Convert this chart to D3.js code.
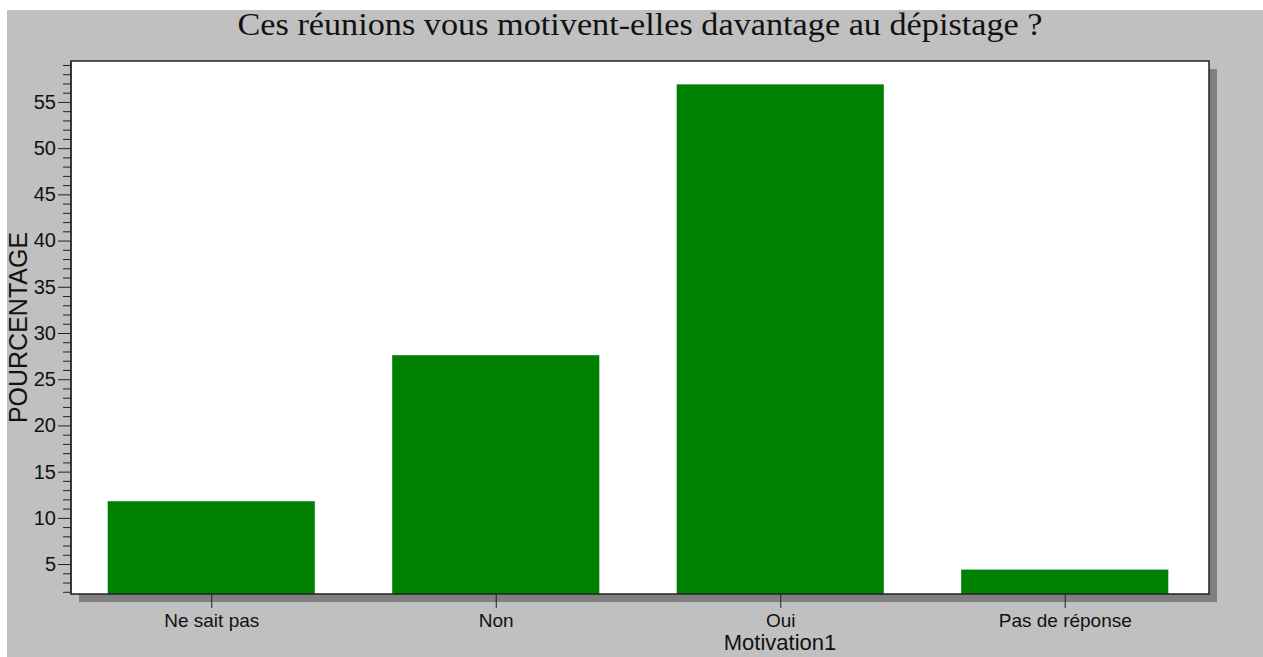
<!DOCTYPE html>
<html>
<head>
<meta charset="utf-8">
<script src="https://cdn.jsdelivr.net/npm/d3@7"></script>
<style>
  body { margin: 0; background: #fff; }
  text { font-family: Arial, "Liberation Sans", sans-serif; fill: #111; }
</style>
</head>
<body>
<svg id="chart" width="1263" height="657"></svg>
<script>
const categories = ["Ne sait pas", "Non", "Oui", "Pas de réponse"];
const percentages = [11.8, 27.6, 56.9, 4.4];
const majorTicks = [5, 10, 15, 20, 25, 30, 35, 40, 45, 50, 55];

const svg = d3.select('#chart');
const plot = { left: 71, top: 61, right: 1209, bottom: 594 };

// grey panel behind everything
svg.append('rect')
  .attr('x', 7).attr('y', 10)
  .attr('width', 1263 - 7).attr('height', 657 - 10)
  .attr('fill', '#c0c0c0');

svg.append('text')
  .attr('x', 640).attr('y', 35)
  .attr('text-anchor', 'middle')
  .attr('textLength', 805)
  .attr('lengthAdjust', 'spacingAndGlyphs')
  .style('font-family', '"Liberation Serif", "Times New Roman", serif')
  .style('font-size', '31px')
  .text('Ces réunions vous motivent-elles davantage au dépistage ?');

// drop shadow of the plot area
svg.append('rect')
  .attr('x', plot.left + 8).attr('y', plot.top + 8)
  .attr('width', plot.right - plot.left).attr('height', plot.bottom - plot.top)
  .attr('fill', '#808080');

svg.append('rect')
  .attr('x', plot.left).attr('y', plot.top)
  .attr('width', plot.right - plot.left).attr('height', plot.bottom - plot.top)
  .attr('fill', '#fff');

const x = d3.scaleBand()
  .domain(categories)
  .range([plot.left - 2, plot.right - 2])
  .paddingInner(0.272)
  .paddingOuter(0.136);

const y = d3.scaleLinear()
  .domain([1.76, 59.43])
  .range([plot.bottom, plot.top]);

svg.append('g')
  .selectAll('rect')
  .data(categories)
  .join('rect')
  .attr('x', d => x(d))
  .attr('y', (d, i) => y(percentages[i]))
  .attr('width', x.bandwidth())
  .attr('height', (d, i) => plot.bottom - y(percentages[i]))
  .attr('fill', '#008000');

// frame
svg.append('rect')
  .attr('x', plot.left).attr('y', plot.top)
  .attr('width', plot.right - plot.left).attr('height', plot.bottom - plot.top)
  .attr('fill', 'none')
  .attr('stroke', '#222')
  .attr('stroke-width', 1.5);

// y axis: minor ticks every 1, major every 5
const minor = d3.range(2, 60).filter(v => v % 5 !== 0);
svg.append('g')
  .attr('transform', `translate(${plot.left},0)`)
  .call(d3.axisLeft(y).tickValues(minor).tickSize(8).tickFormat(''))
  .call(g => g.select('.domain').remove())
  .call(g => g.selectAll('line').attr('stroke', '#222'));

svg.append('g')
  .attr('transform', `translate(${plot.left},0)`)
  .call(d3.axisLeft(y).tickValues(majorTicks).tickSize(13).tickPadding(2))
  .call(g => g.select('.domain').attr('stroke', '#222').attr('d', `M0,${plot.top}V${plot.bottom}`))
  .call(g => g.selectAll('line').attr('stroke', '#222'))
  .call(g => g.selectAll('text').style('font-size', '20px').attr('fill', '#111'));

// x axis
const bandCenter = d3.scalePoint()
  .domain(categories)
  .range([x(categories[0]) + x.bandwidth() / 2, x(categories[3]) + x.bandwidth() / 2]);

svg.append('g')
  .attr('transform', `translate(0,${plot.bottom})`)
  .call(d3.axisBottom(bandCenter).tickSize(14).tickPadding(6))
  .call(g => g.select('.domain').remove())
  .call(g => g.selectAll('line').attr('stroke', '#222'))
  .call(g => g.selectAll('text').style('font-size', '19px').attr('fill', '#111'));

svg.append('text')
  .attr('x', 780).attr('y', 650)
  .attr('text-anchor', 'middle')
  .style('font-size', '22px')
  .text('Motivation1');

svg.append('text')
  .attr('transform', `translate(27,${(plot.top + plot.bottom) / 2}) rotate(-90)`)
  .attr('text-anchor', 'middle')
  .style('font-size', '25px')
  .text('POURCENTAGE');
</script>
</body>
</html>
